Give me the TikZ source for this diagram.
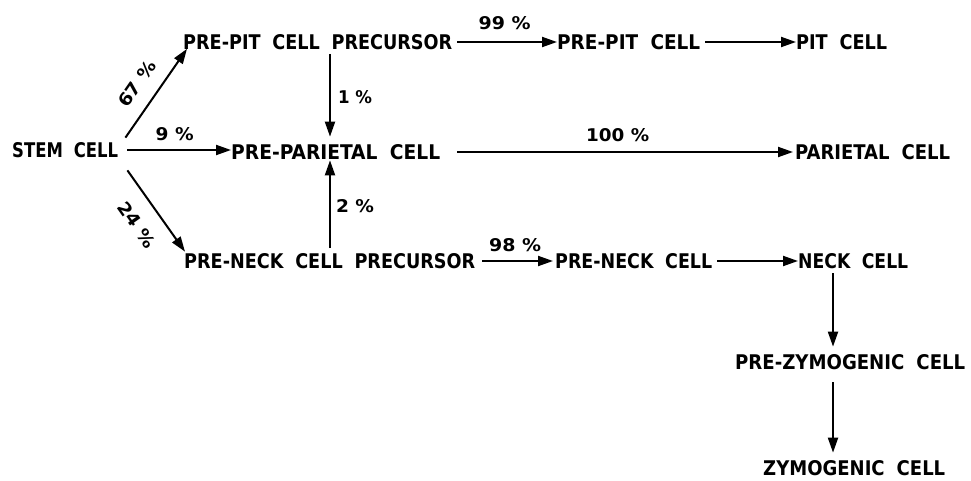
\documentclass[tikz,border=0pt]{standalone}
\usepackage{fontspec}
\usepackage{graphicx}
\setmainfont{DejaVu Sans Condensed}
\usetikzlibrary{arrows.meta,calc}
\newcommand{\wg}{\hspace{0.6em}}
\newcommand{\fitt}[2]{\resizebox{#1}{15pt}{\bfseries #2}}
\newcommand{\fitp}[2]{\resizebox{#1}{13pt}{\bfseries #2}}
\begin{document}
\begin{tikzpicture}[x=1pt,y=-1pt,
  lbl/.style={inner sep=0pt, anchor=west},
  pct/.style={inner sep=0pt},
  flow/.style={line width=2pt, -{Triangle[length=15pt,width=10pt]}}]
\useasboundingbox (0,0) rectangle (971,481);
\coordinate (xa) at (330,0);
\coordinate (xb) at (833,0);
% nodes
\node[lbl] (stem) at (12,150) {\fitt{106pt}{STEM\wg CELL}};
\node[lbl] (ppc)  at (183,42) {\fitt{269pt}{PRE-PIT\wg CELL\wg PRECURSOR}};
\node[lbl] (pp)   at (557,42) {\fitt{143pt}{PRE-PIT\wg CELL}};
\node[lbl] (pit)  at (796,42) {\fitt{91pt}{PIT\wg CELL}};
\node[lbl] (ppar) at (231,152) {\fitt{209pt}{PRE-PARIETAL\wg CELL}};
\node[lbl] (par)  at (795,152) {\fitt{155pt}{PARIETAL\wg CELL}};
\node[lbl] (pnc)  at (184,261) {\fitt{291pt}{PRE-NECK\wg CELL\wg PRECURSOR}};
\node[lbl] (pn)   at (555,261) {\fitt{157pt}{PRE-NECK\wg CELL}};
\node[lbl] (neck) at (798,261) {\fitt{110pt}{NECK\wg CELL}};
\node[lbl] (pz)   at (735,362) {\fitt{230pt}{PRE-ZYMOGENIC\wg CELL}};
\node[lbl] (zy)   at (763,468) {\fitt{182pt}{ZYMOGENIC\wg CELL}};
% connectors
\draw[flow] ([shift={(7,-4.5)}]stem.north east) -- ([shift={(4,-1)}]ppc.south west)
  node[pct, pos=0.47, sloped, above=13.5pt] {\fitp{52pt}{67 \%}};
\draw[flow, shorten <=9pt] (stem.east) -- (ppar.west |- stem.east)
  node[pct, midway, above=8pt] {\fitp{38pt}{9 \%}};
\draw[flow] ([shift={(9,12.5)}]stem.south east) -- ([shift={(1,-1.5)}]pnc.north west)
  node[pct, midway, sloped, below=16pt] {\fitp{52pt}{24 \%}};
\draw[flow, shorten <=5pt] (ppc.east) -- (pp.west |- ppc.east)
  node[pct, midway, above=11pt] {\fitp{52pt}{99 \%}};
\draw[flow, shorten <=5pt] (pp.east) -- (pit.west);
\draw[flow, shorten <=4pt, shorten >=7.5pt] (ppc.south -| xa) -- (ppar.north -| xa)
  node[pct, midway, right=7pt] {\fitp{34pt}{1 \%}};
\draw[flow, shorten <=5pt, shorten >=0.5pt] (pnc.north -| xa) -- (ppar.south -| xa)
  node[pct, midway, right=5pt] {\fitp{38pt}{2 \%}};
\draw[flow, shorten <=17pt, shorten >=2pt] (ppar.east) -- (par.west)
  node[pct, midway, above=9pt] {\fitp{63pt}{100 \%}};
\draw[flow, shorten <=7pt, shorten >=2pt] (pnc.east) -- (pn.west |- pnc.east)
  node[pct, midway, above=8pt] {\fitp{52pt}{98 \%}};
\draw[flow, shorten <=5pt] (pn.east) -- (neck.west |- pn.east);
\draw[flow, shorten <=4.5pt, shorten >=7.5pt] (neck.south -| xb) -- (pz.north -| xb);
\draw[flow, shorten <=12.5pt, shorten >=7.5pt] (pz.south -| xb) -- (zy.north -| xb);
\end{tikzpicture}
\end{document}
